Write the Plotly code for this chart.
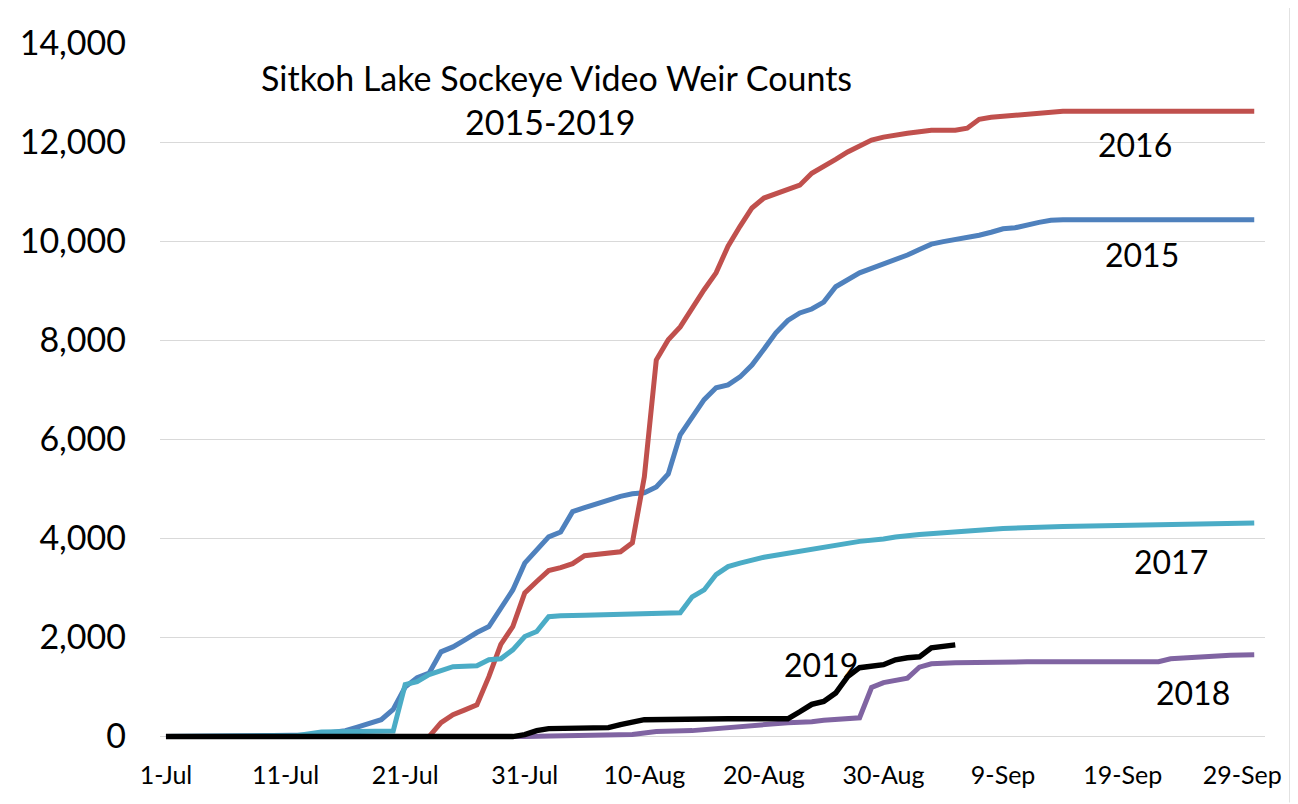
import pandas as pd
import plotly.graph_objects as go

YEAR = "2019"

# ---- data (month-day, cumulative count) ----
dates_2015 = ["07-01","07-11","07-13","07-15","07-16","07-17","07-18","07-19","07-20","07-21",
              "07-22","07-23","07-24","07-25","07-26","07-27","07-28","07-29","07-30","07-31",
              "08-01","08-02","08-03","08-04","08-05","08-06","08-07","08-08","08-09","08-10",
              "08-11","08-12","08-13","08-14","08-15","08-16","08-17","08-18","08-19","08-20",
              "08-21","08-22","08-23","08-24","08-25","08-26","08-27","08-28","08-29","08-30",
              "08-31","09-01","09-02","09-03","09-04","09-05","09-06","09-07","09-08","09-09",
              "09-10","09-11","09-12","09-13","09-14","09-30"]
counts_2015 = [0,20,30,90,120,190,270,340,550,1000,
               1190,1280,1710,1810,1950,2100,2220,2600,2960,3500,
               3750,4030,4130,4540,4620,4700,4780,4850,4900,4920,
               5040,5300,6090,6450,6800,7040,7100,7260,7500,7820,
               8150,8400,8550,8630,8770,9080,9220,9360,9450,9540,
               9620,9720,9830,9940,9990,10030,10070,10120,10180,10250,
               10270,10330,10380,10420,10430,10430]

dates_2016 = ["07-01","07-23","07-24","07-25","07-26","07-27","07-28","07-29","07-30","07-31",
              "08-01","08-02","08-03","08-04","08-05","08-06","08-07","08-08","08-09","08-10",
              "08-11","08-12","08-13","08-14","08-15","08-16","08-17","08-18","08-19","08-20",
              "08-21","08-22","08-23","08-24","08-25","08-26","08-27","08-28","08-29","08-30",
              "08-31","09-01","09-02","09-03","09-04","09-05","09-06","09-07","09-08","09-09",
              "09-10","09-11","09-12","09-14","09-30"]
counts_2016 = [0,0,280,440,540,640,1210,1860,2220,2900,
               3130,3350,3410,3490,3650,3670,3690,3730,3910,5240,
               7600,8010,8270,8650,9020,9360,9900,10300,10670,10870,
               10950,11050,11130,11370,11500,11650,11800,11920,12040,12100,
               12150,12180,12210,12240,12240,12240,12280,12460,12500,12520,
               12550,12580,12600,12620,12620]

dates_2017 = ["07-01","07-12","07-14","07-20","07-21","07-22","07-23","07-25","07-27","07-28",
              "07-29","07-30","07-31","08-01","08-02","08-03","08-05","08-12","08-13","08-14",
              "08-15","08-16","08-17","08-18","08-19","08-20","08-21","08-22","08-23","08-24",
              "08-25","08-26","08-27","08-28","08-30","08-31","09-02","09-04","09-06","09-09",
              "09-14","09-21","09-30"]
counts_2017 = [0,20,90,110,1050,1110,1250,1410,1430,1550,
               1570,1750,2020,2120,2420,2440,2450,2480,2500,2820,
               2960,3270,3430,3500,3570,3620,3660,3700,3740,3780,
               3840,3880,3900,3940,3990,4030,4080,4120,4160,4200,
               4240,4280,4310]

dates_2018 = ["07-01","07-31","08-09","08-11","08-14","08-16","08-19","08-22","08-24","08-25",
              "08-28","08-29","08-30","09-01","09-02","09-03","09-05","09-11","09-22","09-23",
              "09-28","09-30"]
counts_2018 = [0,0,40,100,120,160,240,280,300,330,
               380,990,1090,1180,1400,1470,1490,1510,1510,1570,
               1640,1650]

dates_2019 = ["07-01","07-30","07-31","08-01","08-02","08-07","08-08","08-09","08-10","08-17",
              "08-22","08-23","08-24","08-25","08-26","08-27","08-28","08-30","08-31","09-01",
              "09-02","09-03","09-04","09-05"]
counts_2019 = [0,0,40,120,160,180,240,300,340,360,
               360,500,650,710,880,1210,1390,1450,1550,1590,
               1610,1790,1830,1850]

series_names = ["2015", "2016", "2017", "2018", "2019"]
series_colors = ["#4F81BD", "#C0504D", "#4BACC6", "#8064A2", "#000000"]
series_dates = [dates_2015, dates_2016, dates_2017, dates_2018, dates_2019]
series_counts = [counts_2015, counts_2016, counts_2017, counts_2018, counts_2019]

tick_labels = ["1-Jul", "11-Jul", "21-Jul", "31-Jul", "10-Aug", "20-Aug",
               "30-Aug", "9-Sep", "19-Sep", "29-Sep"]
title_lines = ["Sitkoh Lake Sockeye Video Weir Counts", "2015-2019"]

FONT = "Lato, Calibri, Carlito, 'Open Sans', sans-serif"

# page body adds ~8px offset; positions below are screen pixels minus that offset
OFF = 8
W, H = 1298, 804
L, R, T, B = 160 - OFF, 1265 - OFF, 43 - OFF, 744.4 - OFF


def to_dt(md):
    return pd.Timestamp(f"{YEAR}-{md}")


fig = go.Figure()
for name, color, ds, cs in zip(series_names, series_colors, series_dates, series_counts):
    fig.add_trace(go.Scatter(
        x=[to_dt(d) for d in ds], y=cs, mode="lines", name=name,
        line=dict(color=color, width=5 if name != "2019" else 5.4),
        showlegend=False, hoverinfo="skip"))

tickvals = [pd.Timestamp(t + "-" + YEAR) for t in tick_labels]

fig.update_xaxes(
    range=[pd.Timestamp(f"{YEAR}-06-30 12:00"), pd.Timestamp(f"{YEAR}-09-30 21:36")],
    tickvals=tickvals, ticktext=tick_labels, showgrid=False, zeroline=False,
    showline=False, ticks="", ticklabelstandoff=14,
    tickfont=dict(family=FONT, size=25, color="#000000"))
fig.update_yaxes(
    range=[-150, 14000], tickvals=list(range(0, 14001, 2000)), tickformat=",",
    showgrid=True, gridcolor="#D9D9D9", gridwidth=1.4, zeroline=False,
    showline=False, ticks="", ticklabelstandoff=33,
    tickfont=dict(family=FONT, size=34, color="#000000"))


def px2paper(px, py):
    return (px - OFF - L) / (R - L), (B - (py - OFF)) / (B - T)


labels = [("2016", 1135, 145, 32), ("2015", 1142, 255, 32), ("2017", 1171, 562, 32),
          ("2018", 1193, 693, 32), ("2019", 821, 665, 32),
          (title_lines[0], 556, 78, 34), (title_lines[1], 550, 122, 34)]
for text, px, py, fs in labels:
    xp, yp = px2paper(px, py)
    fig.add_annotation(x=xp, y=yp, xref="paper", yref="paper", text=text,
                       showarrow=False, xanchor="center", yanchor="middle",
                       font=dict(family=FONT, size=fs, color="#000000"))

# outer chart border (left, top, right)
x0, y0 = px2paper(4, 6)
x1, y1 = px2paper(1290, 803)
fig.add_shape(type="path", xref="paper", yref="paper",
              path=f"M {x0} {y1} L {x0} {y0} L {x1} {y0} L {x1} {y1}",
              line=dict(color="#D9D9D9", width=1.5))

fig.update_layout(
    width=W, height=H,
    margin=dict(l=L, r=W - R, t=T, b=H - B, pad=0),
    plot_bgcolor="#FFFFFF", paper_bgcolor="#FFFFFF",
    font=dict(family=FONT),
)

fig.write_html("out.html")
